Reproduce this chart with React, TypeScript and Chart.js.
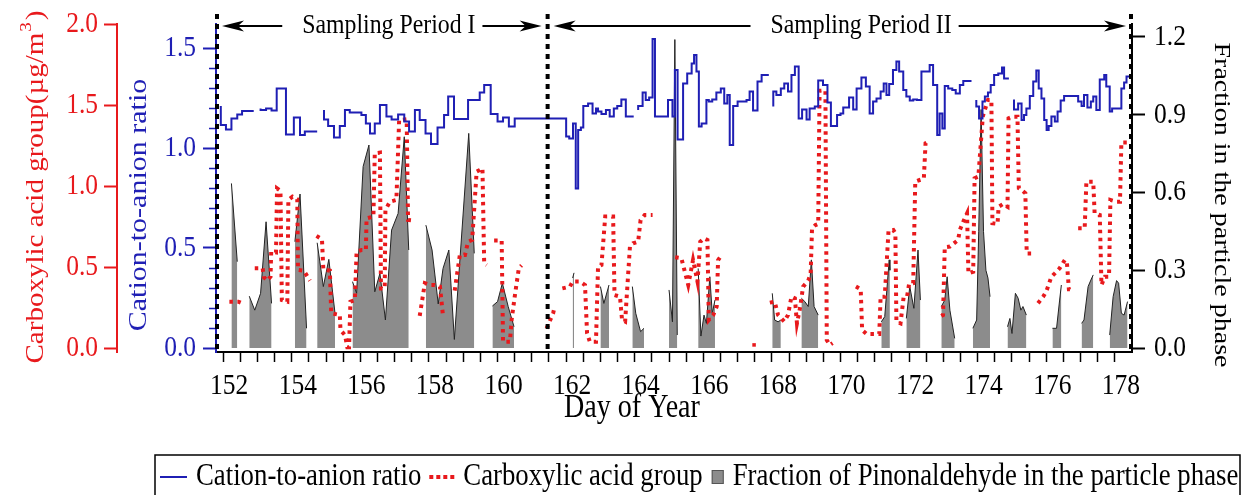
import React, { useEffect, useRef } from 'react';
import { Chart, registerables } from 'chart.js';

Chart.register(...registerables);

const SERIF = "'Liberation Serif', 'Times New Roman', Times, serif";
const RED = '#e8191c';
const BLUE = '#1f1fb4';
const GREY = '#8c8c8c';
const SQ = 0.85; // horizontal squeeze of the original artwork's lettering

// ---------- data (day of year, value); null = gap ----------
const ratioSeries: [number, number | null][] = [
  [151.93, 1.21], [152.08, 1.115], [152.24, 1.093], [152.41, 1.148], [152.55, 1.168], [152.68, 1.185], [152.89, 1.185],
  [153.0, null],
  [153.09, 1.198], [153.25, 1.19], [153.41, 1.198], [153.56, 1.187], [153.83, 1.298], [154.06, 1.068], [154.24, 1.153], [154.38, 1.065], [154.58, 1.082], [154.74, 1.082],
  [154.85, null],
  [154.94, 1.19], [155.06, 1.143], [155.23, 1.11], [155.4, 1.053], [155.55, 1.11], [155.69, 1.19], [156.03, 1.177], [156.16, 1.165], [156.28, 1.123], [156.42, 1.073], [156.57, 1.123], [156.76, 1.215], [156.91, 1.157], [157.1, 1.143], [157.28, 1.168], [157.42, 1.132], [157.59, 1.082], [157.73, 1.19], [157.9, 1.14], [158.06, 1.073], [158.25, 1.02], [158.44, 1.103], [158.56, 1.165], [158.73, 1.257], [159.14, 1.145], [159.48, 1.24], [159.61, 1.277], [159.8, 1.315], [160.0, 1.17], [160.16, 1.132], [160.33, 1.153], [160.5, 1.108], [162.0, 1.148], [162.09, 1.057], [162.2, 1.048], [162.28, 1.123], [162.35, 0.798], [162.43, 1.09], [162.5, 1.103], [162.64, 1.21], [162.77, 1.223], [162.87, 1.173], [162.93, 1.198], [163.03, 1.182], [163.16, 1.17], [163.27, 1.19], [163.39, 1.157], [163.49, 1.198], [163.61, 1.21], [163.74, 1.243], [163.86, 1.157], [163.97, 1.157],
  [164.03, null],
  [164.1, 1.19], [164.23, 1.21], [164.32, 1.277], [164.42, 1.24], [164.52, 1.253], [164.59, 1.545], [164.97, 1.157], [165.1, 1.24], [165.17, 1.157], [165.25, 1.39], [165.41, 1.043], [165.53, 1.323], [165.66, 1.373], [165.73, 1.423], [165.8, 1.465], [165.87, 1.382], [165.95, 1.107], [166.09, 1.123], [166.16, 1.24], [166.26, 1.232], [166.38, 1.243], [166.51, 1.277], [166.61, 1.298], [166.7, 1.223], [166.77, 1.265], [166.87, 1.015], [167.0, 1.21], [167.26, 1.232], [167.35, 1.24], [167.45, 1.282], [167.58, 1.187], [167.7, 1.332], [167.81, 1.365], [167.91, 1.365],
  [167.97, null],
  [168.04, 1.207], [168.13, 1.282], [168.26, 1.265], [168.36, 1.298], [168.47, 1.323], [168.57, 1.282], [168.67, 1.365], [168.78, 1.407], [168.88, 1.148], [169.01, 1.193], [169.1, 1.143], [169.25, 1.198], [169.35, 1.207], [169.49, 1.337], [169.62, 1.315], [169.72, 1.228], [169.9, 1.11], [170.0, 1.165], [170.08, 1.173], [170.25, 1.203], [170.37, 1.253], [170.47, 1.193], [170.61, 1.298], [170.74, 1.353], [170.85, 1.307], [170.95, 1.173], [171.05, 1.232], [171.17, 1.248], [171.26, 1.282], [171.34, 1.323], [171.42, 1.265], [171.53, 1.32], [171.63, 1.39], [171.71, 1.432], [171.83, 1.382], [171.92, 1.29], [172.02, 1.257], [172.12, 1.237], [172.23, 1.243], [172.36, 1.24], [172.6, 1.382], [172.7, 1.415], [172.82, 1.315], [172.89, 1.065], [172.97, 1.173], [173.04, 1.098], [173.14, 1.31], [173.26, 1.298], [173.36, 1.29], [173.48, 1.273], [173.58, 1.315], [173.67, 1.335], [173.82, 1.335],
  [173.9, null],
  [173.96, 1.24], [174.04, 1.207], [174.14, 1.148], [174.21, 1.232], [174.3, 1.257], [174.38, 1.277], [174.48, 1.315], [174.6, 1.365], [174.71, 1.373], [174.77, 1.402], [174.84, 1.348], [174.91, 1.348],
  [175.0, null],
  [175.06, 1.243], [175.18, 1.193], [175.28, 1.223], [175.35, 1.14], [175.42, 1.165], [175.52, 1.198], [175.62, 1.26], [175.71, 1.332], [175.78, 1.387], [175.86, 1.298], [175.94, 1.248], [176.01, 1.14], [176.07, 1.09], [176.15, 1.11], [176.25, 1.157], [176.33, 1.132], [176.42, 1.182], [176.52, 1.237], [176.93, 1.26], [177.03, 1.232], [177.1, 1.21], [177.2, 1.265], [177.3, 1.203], [177.37, 1.232], [177.46, 1.257], [177.56, 1.19], [177.69, 1.343], [177.75, 1.365], [177.85, 1.307], [177.92, 1.182], [178.19, 1.198], [178.27, 1.298], [178.34, 1.327], [178.43, 1.357], [178.48, 1.357],
];

const acidSeries: [number, number | null][] = [
  [152.18, 0.286], [152.44, 0.286], [152.6, 0.272],
  [152.75, null],
  [152.92, 0.492], [153.15, 0.492], [153.19, 0.436], [153.28, 0.416], [153.38, 0.44], [153.4, 0.595], [153.54, 0.59], [153.57, 0.986], [153.67, 0.971], [153.71, 0.296], [153.87, 0.286], [153.9, 0.914], [154.02, 0.934], [154.16, 0.918], [154.18, 0.482], [154.35, 0.477], [154.53, 0.416],
  [154.62, null],
  [154.72, 0.692], [154.88, 0.671], [154.92, 0.486], [155.11, 0.477], [155.15, 0.214], [155.4, 0.204], [155.42, 0.111], [155.55, 0.08], [155.62, 0.004], [155.67, 0.004], [155.71, 0.286], [155.84, 0.296], [155.89, 0.595], [156.03, 0.605], [156.16, 0.605], [156.18, 0.8], [156.38, 0.811], [156.42, 1.202], [156.57, 1.206], [156.6, 0.368], [156.71, 0.368], [156.73, 0.852], [156.86, 0.903], [157.05, 0.914], [157.13, 1.407], [157.35, 1.412], [157.39, 0.79], [157.57, 0.786],
  [157.65, null],
  [157.73, 0.198], [157.88, 0.4], [158.03, 0.389], [158.17, 0.389], [158.32, 0.379], [158.41, 0.198],
  [158.6, null],
  [158.75, 0.354], [158.9, 0.574], [159.05, 0.574], [159.14, 0.656], [159.26, 0.667], [159.39, 1.089], [159.48, 1.099], [159.56, 1.109], [159.61, 0.523], [159.68, 0.512],
  [159.8, null],
  [159.9, 0.663], [160.12, 0.663], [160.16, 0.039], [160.36, 0.039], [160.41, 0.173], [160.5, 0.317], [160.62, 0.492], [160.7, 0.51],
  [161.0, null],
  [161.43, 0.121], [161.62, 0.214], [161.67, 0.259],
  [161.8, null],
  [161.89, 0.368], [162.11, 0.379], [162.19, 0.41], [162.4, 0.41], [162.55, 0.389], [162.61, 0.091], [162.69, 0.039], [162.87, 0.039], [162.93, 0.502], [163.03, 0.512], [163.14, 0.811], [163.37, 0.811], [163.41, 0.327], [163.57, 0.317], [163.63, 0.173], [163.72, 0.163], [163.86, 0.626], [163.95, 0.646], [164.1, 0.656], [164.17, 0.79], [164.29, 0.821], [164.52, 0.821],
  [164.9, null],
  [165.18, 0.56], [165.36, 0.554], [165.56, 0.389], [165.7, 0.543], [165.83, 0.41], [165.91, 0.656], [166.02, 0.677], [166.12, 0.667], [166.16, 0.173], [166.29, 0.204], [166.39, 0.255], [166.43, 0.543], [166.53, 0.574],
  [167.0, null],
  [167.48, 0.019],
  [167.7, null],
  [167.94, 0.28], [168.08, 0.286], [168.18, 0.204], [168.36, 0.163], [168.47, 0.204], [168.57, 0.317], [168.67, 0.307], [168.73, 0.152], [168.81, 0.235], [168.91, 0.379], [169.06, 0.416], [169.13, 0.461], [169.17, 0.739], [169.27, 0.759], [169.35, 0.766], [169.39, 1.588], [169.56, 1.588], [169.6, 0.049], [169.69, 0.019], [169.77, 0.03],
  [170.2, null],
  [170.45, 0.379], [170.59, 0.362], [170.63, 0.111], [170.76, 0.087], [171.13, 0.087], [171.17, 0.317], [171.29, 0.317], [171.4, 0.723], [171.54, 0.728], [171.6, 0.708], [171.63, 0.163], [171.75, 0.152], [171.84, 0.313], [171.94, 0.317], [172.0, 0.395], [172.12, 0.4], [172.18, 1.027], [172.31, 1.037], [172.43, 1.045], [172.48, 1.264], [172.57, 1.274],
  [172.8, null],
  [172.94, 0.198], [172.99, 0.204], [173.04, 0.622], [173.19, 0.626], [173.43, 0.667], [173.48, 0.728], [173.6, 0.79], [173.69, 0.831], [173.73, 0.461], [173.87, 0.471], [173.91, 1.048], [174.02, 1.058], [174.15, 1.43], [174.3, 1.531], [174.4, 1.531], [174.43, 0.77], [174.58, 0.766], [174.61, 0.872], [174.74, 0.889], [174.87, 0.872], [174.9, 1.418], [175.03, 1.428], [175.16, 1.428], [175.2, 0.986], [175.28, 0.975], [175.39, 0.955], [175.43, 0.584], [175.57, 0.584],
  [175.65, null],
  [175.76, 0.276], [175.91, 0.317], [176.0, 0.348], [176.15, 0.44], [176.25, 0.461], [176.39, 0.492], [176.54, 0.543], [176.6, 0.533], [176.66, 0.362], [176.69, 0.362],
  [176.8, null],
  [176.93, 0.739], [177.12, 0.739], [177.17, 1.027], [177.37, 1.027], [177.41, 0.831], [177.56, 0.821], [177.61, 0.389], [177.71, 0.44], [177.83, 0.44], [177.87, 0.914], [178.06, 0.903], [178.15, 0.903], [178.19, 1.268], [178.43, 1.268],
];

const fractionSeries: [number, number | null][] = [
  [152.24, 0.635], [152.41, 0.333],
  [152.6, null],
  [152.76, 0.2], [152.92, 0.146], [153.09, 0.211], [153.25, 0.487], [153.41, 0.172],
  [153.7, null],
  [154.09, 0.41], [154.24, 0.594], [154.43, 0.076],
  [154.6, null],
  [154.74, 0.406], [154.92, 0.237], [155.08, 0.342], [155.26, 0.134],
  [155.5, null],
  [155.77, 0.256], [155.89, 0.211], [156.08, 0.7], [156.25, 0.783], [156.42, 0.217], [156.57, 0.288], [156.73, 0.108], [156.91, 0.455], [157.1, 0.519], [157.28, 0.815], [157.41, 0.378],
  [157.7, null],
  [157.91, 0.474], [158.09, 0.378], [158.27, 0.17], [158.41, 0.307], [158.58, 0.378], [158.74, 0.033], [159.16, 0.828], [159.32, 0.365],
  [159.6, null],
  [159.85, 0.162], [160.0, 0.179], [160.14, 0.25], [160.31, 0.16], [160.48, 0.082],
  [161.5, null],
  [162.19, 0.27], [162.23, 0.29],
  [162.6, null],
  [163.0, 0.237], [163.1, 0.172], [163.25, 0.243],
  [163.6, null],
  [163.93, 0.237], [164.03, 0.134], [164.17, 0.063], [164.27, 0.076],
  [164.6, null],
  [165.0, 0.224], [165.1, 0.101], [165.17, 1.19], [165.24, 0.05],
  [165.5, null],
  [165.85, 0.307], [165.93, 0.046], [166.02, 0.127], [166.09, 0.095], [166.19, 0.275], [166.26, 0.134], [166.34, 0.185],
  [167.0, null],
  [168.01, 0.211], [168.08, 0.108], [168.18, 0.101], [168.26, 0.108],
  [168.5, null],
  [168.86, 0.192], [168.96, 0.179], [169.06, 0.16], [169.15, 0.34], [169.23, 0.16], [169.35, 0.127],
  [170.0, null],
  [171.19, 0.101], [171.29, 0.121], [171.42, 0.34], [171.44, 0.3],
  [171.7, null],
  [171.92, 0.114], [172.02, 0.237], [172.14, 0.153], [172.26, 0.378], [172.33, 0.185],
  [172.6, null],
  [172.94, 0.16], [173.04, 0.185], [173.11, 0.275], [173.19, 0.146], [173.33, 0.037],
  [173.6, null],
  [173.86, 0.076], [173.97, 0.108], [174.03, 0.45], [174.1, 0.92], [174.17, 0.45], [174.24, 0.3], [174.3, 0.27], [174.36, 0.198],
  [174.6, null],
  [174.87, 0.082], [174.94, 0.114], [175.0, 0.056], [175.1, 0.211], [175.18, 0.192], [175.26, 0.146], [175.32, 0.16], [175.42, 0.127],
  [175.8, null],
  [176.18, 0.076], [176.3, 0.076], [176.39, 0.185], [176.44, 0.243],
  [176.7, null],
  [177.03, 0.095], [177.1, 0.108], [177.22, 0.237], [177.3, 0.262], [177.37, 0.282],
  [177.6, null],
  [177.85, 0.05], [177.95, 0.198], [178.05, 0.26], [178.11, 0.25], [178.19, 0.134], [178.27, 0.127], [178.37, 0.179],
];

// ---------- axes / tick labels ----------
const xLabelDays = [152, 154, 156, 158, 160, 162, 164, 166, 168, 170, 172, 174, 176, 178];
const acidTicks = [0, 0.5, 1.0, 1.5, 2.0];
const ratioTicks = [0, 0.5, 1.0, 1.5];
const ratioMinorTicks = [0.1, 0.2, 0.3, 0.4, 0.6, 0.7, 0.8, 0.9, 1.1, 1.2, 1.3, 1.4];
const fractionTicks = [0, 0.3, 0.6, 0.9, 1.2];
const dayRange = [151.79, 178.5];
const periodBoundaries = [151.79, 161.46, 178.5];
const periodLabels = ['Sampling Period I', 'Sampling Period II'];
const periodLabelDays = [156.83, 170.6];
const legendLabels = ['Cation-to-anion ratio', 'Carboxylic acid group', 'Fraction of Pinonaldehyde in the particle phase'];

const toPoints = (pairs: [number, number | null][]) => pairs.map(([x, y]) => ({ x, y }));

const xMinorDays: number[] = [];
for (let d = xLabelDays[0]; d <= xLabelDays[xLabelDays.length - 1] + 1e-9; d += 0.5) xMinorDays.push(d);

const isolatedRadius = (ctx: any) => {
  const d = ctx.dataset.data;
  const i = ctx.dataIndex;
  const cur = d[i];
  if (!cur || cur.y == null) return 0;
  const prev = d[i - 1];
  const next = d[i + 1];
  return (!prev || prev.y == null) && (!next || next.y == null) ? 2.5 : 0;
};

function sText(ctx: CanvasRenderingContext2D, text: string, x: number, y: number, size: number, color: string, align: CanvasTextAlign) {
  ctx.save();
  ctx.translate(x, y);
  ctx.scale(SQ, 1);
  ctx.font = `${size}px ${SERIF}`;
  ctx.fillStyle = color;
  ctx.textAlign = align;
  ctx.textBaseline = 'middle';
  ctx.fillText(text, 0, 0);
  ctx.restore();
}

function sWidth(ctx: CanvasRenderingContext2D, text: string, size: number) {
  ctx.save();
  ctx.font = `${size}px ${SERIF}`;
  const w = ctx.measureText(text).width * SQ;
  ctx.restore();
  return w;
}

function arrowTo(ctx: CanvasRenderingContext2D, from: number, tip: number, y: number) {
  const dir = tip > from ? 1 : -1;
  ctx.beginPath();
  ctx.moveTo(from, y);
  ctx.lineTo(tip - dir * 12, y);
  ctx.stroke();
  ctx.beginPath();
  ctx.moveTo(tip, y);
  ctx.lineTo(tip - dir * 22, y - 5.5);
  ctx.lineTo(tip - dir * 16, y);
  ctx.lineTo(tip - dir * 22, y + 5.5);
  ctx.closePath();
  ctx.fill();
}

const overlayPlugin = {
  id: 'overlay',
  afterDraw(chart: any) {
    const { ctx, chartArea, scales } = chart;
    const xs = scales.x;
    const yr = scales.yRatio;
    const ya = scales.yAcid;
    const yf = scales.yFrac;
    ctx.save();

    // tick labels
    const TICK = 30;
    for (const d of xLabelDays) sText(ctx, String(d), xs.getPixelForValue(d) + 6, 386, TICK, '#000', 'center');
    for (const v of acidTicks) sText(ctx, v.toFixed(1), ya.right - 13 - 6, ya.getPixelForValue(v), TICK, RED, 'right');
    for (const v of ratioTicks) sText(ctx, v.toFixed(1), yr.right - 13 - 7, yr.getPixelForValue(v), TICK, BLUE, 'right');
    for (const v of fractionTicks) sText(ctx, v.toFixed(1), yf.left + 13 + 9, yf.getPixelForValue(v), TICK, '#000', 'left');

    // minor ticks of the ratio axis
    ctx.strokeStyle = BLUE;
    ctx.lineWidth = 1.5;
    for (const v of ratioMinorTicks) {
      const py = Math.round(yr.getPixelForValue(v)) + 0.5;
      ctx.beginPath();
      ctx.moveTo(chartArea.left - 7, py);
      ctx.lineTo(chartArea.left, py);
      ctx.stroke();
    }

    // dotted period boundaries
    ctx.strokeStyle = '#000';
    ctx.lineWidth = 4;
    ctx.setLineDash([5, 5]);
    for (const d of periodBoundaries) {
      let px = xs.getPixelForValue(d);
      px = Math.min(Math.max(px, chartArea.left + 1), chartArea.right - 1);
      ctx.beginPath();
      ctx.moveTo(px, 14);
      ctx.lineTo(px, chartArea.bottom);
      ctx.stroke();
    }
    ctx.setLineDash([]);

    // sampling period annotations
    ctx.fillStyle = '#000';
    ctx.strokeStyle = '#000';
    ctx.lineWidth = 2;
    const ay = 26;
    const ANN = 28;
    for (let i = 0; i < periodLabels.length; i++) {
      const cx = xs.getPixelForValue(periodLabelDays[i]);
      const w = sWidth(ctx, periodLabels[i], ANN);
      sText(ctx, periodLabels[i], cx, ay, ANN, '#000', 'center');
      const leftTip = Math.max(xs.getPixelForValue(periodBoundaries[i]), chartArea.left) + 6;
      const rightTip = Math.min(xs.getPixelForValue(periodBoundaries[i + 1]), chartArea.right) - 6;
      ctx.fillStyle = '#000';
      arrowTo(ctx, cx - w / 2 - 20, leftTip, ay);
      arrowTo(ctx, cx + w / 2 + 7, rightTip, ay);
    }

    // rotated axis titles
    const rot = (text: string, cx: number, cy: number, ang: number, color: string, size: number) => {
      ctx.save();
      ctx.translate(cx, cy);
      ctx.scale(SQ, 1);
      ctx.rotate(ang);
      ctx.font = `${size}px ${SERIF}`;
      ctx.fillStyle = color;
      ctx.textAlign = 'center';
      ctx.textBaseline = 'middle';
      ctx.fillText(text, 0, 0);
      ctx.restore();
    };

    // red title with superscript
    ctx.save();
    ctx.translate(37, 187);
    ctx.scale(SQ, 1);
    ctx.rotate(-Math.PI / 2);
    ctx.fillStyle = RED;
    ctx.textBaseline = 'middle';
    ctx.textAlign = 'left';
    const main = 'Carboxylic acid group(µg/m';
    const TS = 29;
    ctx.font = `${TS}px ${SERIF}`;
    const w1 = ctx.measureText(main).width;
    const w3 = ctx.measureText(')').width;
    ctx.font = `19px ${SERIF}`;
    const w2 = ctx.measureText('3').width;
    const total = w1 + w2 + w3 + 3;
    let tx = -total / 2;
    ctx.font = `${TS}px ${SERIF}`;
    ctx.fillText(main, tx, 0);
    tx += w1 + 1;
    ctx.font = `19px ${SERIF}`;
    ctx.fillText('3', tx, -12);
    tx += w2 + 2;
    ctx.font = `${TS}px ${SERIF}`;
    ctx.fillText(')', tx, 0);
    ctx.restore();

    rot('Cation-to-anion ratio', 139, 205, -Math.PI / 2, BLUE, 30);
    rot('Fraction in the particle phase', 1221, 205, Math.PI / 2, '#000', 28);

    sText(ctx, 'Day of Year', 632, 408, 33, '#000', 'center');

    // legend
    ctx.strokeStyle = '#000';
    ctx.lineWidth = 1.5;
    ctx.beginPath();
    ctx.moveTo(155, 520);
    ctx.lineTo(155, 455);
    ctx.lineTo(1240, 455);
    ctx.lineTo(1240, 520);
    ctx.stroke();
    const LEG = 31.5;
    const ly = 477;
    let lx = 160;
    ctx.strokeStyle = BLUE;
    ctx.lineWidth = 2;
    ctx.beginPath();
    ctx.moveTo(lx, ly);
    ctx.lineTo(lx + 27, ly);
    ctx.stroke();
    lx += 36;
    sText(ctx, legendLabels[0], lx, ly, LEG, '#000', 'left');
    lx += sWidth(ctx, legendLabels[0], LEG) + 8;
    ctx.fillStyle = RED;
    for (let k = 0; k < 4; k++) ctx.fillRect(lx + k * 7, ly - 2, 4, 4);
    lx += 34;
    sText(ctx, legendLabels[1], lx, ly, LEG, '#000', 'left');
    lx += sWidth(ctx, legendLabels[1], LEG) + 9;
    ctx.fillStyle = GREY;
    ctx.fillRect(lx, ly - 7, 12, 14);
    ctx.strokeStyle = '#555';
    ctx.lineWidth = 1;
    ctx.strokeRect(lx + 0.5, ly - 6.5, 11, 13);
    lx += 21;
    sText(ctx, legendLabels[2], lx, ly, LEG, '#000', 'left');

    ctx.restore();
  },
};

export default function App() {
  const canvasRef = useRef<HTMLCanvasElement | null>(null);

  useEffect(() => {
    const canvas = canvasRef.current;
    if (!canvas) return;
    const chart = new Chart(canvas, {
      type: 'line',
      data: {
        datasets: [
          {
            label: legendLabels[0],
            data: toPoints(ratioSeries),
            yAxisID: 'yRatio',
            borderColor: BLUE,
            borderWidth: 2,
            stepped: 'after',
            pointRadius: 0,
            fill: false,
            spanGaps: false,
            order: 1,
          },
          {
            label: legendLabels[1],
            data: toPoints(acidSeries),
            yAxisID: 'yAcid',
            borderColor: RED,
            backgroundColor: RED,
            borderWidth: 4,
            borderDash: [3.5, 4.5],
            borderCapStyle: 'butt',
            tension: 0,
            pointRadius: isolatedRadius,
            pointStyle: 'rect',
            pointBorderWidth: 0,
            fill: false,
            spanGaps: false,
            order: 2,
          },
          {
            label: legendLabels[2],
            data: toPoints(fractionSeries),
            yAxisID: 'yFrac',
            borderColor: '#222',
            borderWidth: 1,
            backgroundColor: GREY,
            tension: 0,
            pointRadius: 0,
            fill: 'origin',
            spanGaps: false,
            order: 3,
          },
        ],
      } as any,
      options: {
        responsive: false,
        animation: false,
        devicePixelRatio: 1,
        events: [],
        layout: { padding: { top: 24, left: 0, right: 0, bottom: 0 } },
        plugins: { legend: { display: false }, tooltip: { enabled: false }, title: { display: false } },
        scales: {
          x: {
            type: 'linear',
            position: 'bottom',
            min: dayRange[0],
            max: dayRange[1],
            afterBuildTicks: (scale: any) => {
              scale.ticks = xMinorDays.map((v) => ({ value: v }));
            },
            afterFit: (scale: any) => {
              scale.height = 143;
            },
            ticks: { display: false, autoSkip: false, maxRotation: 0, minRotation: 0 },
            grid: { drawOnChartArea: false, drawTicks: true, tickLength: 10, tickColor: '#000', tickWidth: 1.5 },
            border: { display: true, color: '#000', width: 2 },
          },
          yAcid: {
            type: 'linear',
            position: 'left',
            weight: 2,
            min: -4 / 162,
            max: 2.0,
            afterBuildTicks: (scale: any) => {
              scale.ticks = acidTicks.map((v) => ({ value: v }));
            },
            afterFit: (scale: any) => {
              scale.width = 117;
            },
            ticks: { display: false },
            grid: { drawOnChartArea: false, drawTicks: true, tickLength: 13, tickColor: RED, tickWidth: 2 },
            border: { display: true, color: RED, width: 2 },
          },
          yRatio: {
            type: 'linear',
            position: 'left',
            weight: 1,
            min: -0.02,
            max: 1.62,
            afterBuildTicks: (scale: any) => {
              scale.ticks = ratioTicks.map((v) => ({ value: v }));
            },
            afterFit: (scale: any) => {
              scale.width = 99;
            },
            ticks: { display: false },
            grid: { drawOnChartArea: false, drawTicks: true, tickLength: 13, tickColor: BLUE, tickWidth: 2 },
            border: { display: true, color: BLUE, width: 2 },
          },
          yFrac: {
            type: 'linear',
            position: 'right',
            min: -4 / 259.2,
            max: 324 / 259.2,
            afterBuildTicks: (scale: any) => {
              scale.ticks = fractionTicks.map((v) => ({ value: v }));
            },
            afterFit: (scale: any) => {
              scale.width = 110;
            },
            ticks: { display: false },
            grid: { drawOnChartArea: false, drawTicks: true, tickLength: 13, tickColor: '#000', tickWidth: 2 },
            border: { display: true, color: '#000', width: 2 },
          },
        },
      } as any,
      plugins: [overlayPlugin],
    });
    return () => chart.destroy();
  }, []);

  return (
    <div style={{ position: 'absolute', left: 0, top: 0, width: 1242, height: 495, background: '#fff' }}>
      <canvas ref={canvasRef} width={1242} height={495} style={{ display: 'block', width: 1242, height: 495 }} />
    </div>
  );
}
